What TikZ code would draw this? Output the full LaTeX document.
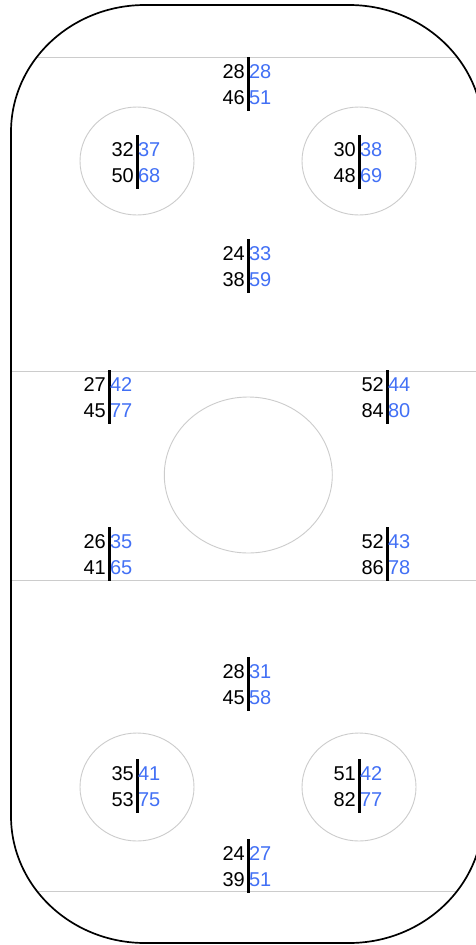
\documentclass[tikz,border=0pt]{standalone}
\usepackage{fontspec}
\setmainfont{Liberation Sans}
\definecolor{statblue}{RGB}{66,112,245}
\definecolor{linegray}{RGB}{204,204,204}
\tikzset{
  rink/.style={draw=black, line width=1.7pt},
  iceline/.style={draw=linegray, line width=1pt},
  dotcircle/.style={draw=linegray, line width=0.9pt},
  statbar/.style={draw=black, line width=3pt},
  lblk/.style={inner sep=0pt, text=black, font=\fontsize{20}{20}\selectfont, anchor=base east},
  lblb/.style={inner sep=0pt, text=statblue, font=\fontsize{20}{20}\selectfont, anchor=base west}
}
\newcommand{\statpair}[7]{%
  \coordinate (#1t) at (#2,-#3);
  \coordinate (#1b) at (#2,-#3-54);
  \draw[statbar] (#1t) -- (#1b);
  \node[lblk] (#1a) at (#2-3,-#3-21) {#4};
  \node[lblb] (#1c) at (#2+0.8,-#3-21) {#5};
  \node[lblk] (#1d) at (#2-3,-#3-47) {#6};
  \node[lblb] (#1e) at (#2+0.8,-#3-47) {#7};
}
\begin{document}
\begin{tikzpicture}[x=1pt,y=1pt]
\useasboundingbox (0,0) rectangle (476,-945);
\fill[white] (0,0) rectangle (476,-945);
\def\rinkpath{(145,-5) -- (349,-5) arc[start angle=90,end angle=0,x radius=134,y radius=127]
  -- (483,-816) arc[start angle=0,end angle=-90,x radius=134,y radius=127]
  -- (145,-943) arc[start angle=270,end angle=180,x radius=134,y radius=127]
  -- (11,-132) arc[start angle=180,end angle=90,x radius=134,y radius=127] -- cycle}
\begin{scope}
  \clip \rinkpath;
  \draw[iceline] (0,-57) -- (500,-57);
  \draw[iceline] (0,-371) -- (500,-371);
  \draw[iceline] (0,-580) -- (500,-580);
  \draw[iceline] (0,-891) -- (500,-891);
\end{scope}
\draw[rink] \rinkpath;
\draw[dotcircle] (137,-161) ellipse[x radius=57,y radius=54];
\draw[dotcircle] (359,-161) ellipse[x radius=57,y radius=54];
\draw[dotcircle] (137,-787) ellipse[x radius=57,y radius=54];
\draw[dotcircle] (359,-787) ellipse[x radius=57,y radius=54];
\draw[dotcircle] (248.3,-475) ellipse[x radius=84,y radius=78];
\statpair{s1}{248}{57}{28}{28}{46}{51}
\statpair{s2}{137}{135}{32}{37}{50}{68}
\statpair{s3}{359}{135}{30}{38}{48}{69}
\statpair{s4}{248}{239}{24}{33}{38}{59}
\statpair{s5}{109}{370}{27}{42}{45}{77}
\statpair{s6}{387}{370}{52}{44}{84}{80}
\statpair{s7}{109}{527}{26}{35}{41}{65}
\statpair{s8}{387}{527}{52}{43}{86}{78}
\statpair{s9}{248}{657}{28}{31}{45}{58}
\statpair{s10}{137}{759}{35}{41}{53}{75}
\statpair{s11}{359}{759}{51}{42}{82}{77}
\statpair{s12}{248}{839}{24}{27}{39}{51}
\end{tikzpicture}
\end{document}
